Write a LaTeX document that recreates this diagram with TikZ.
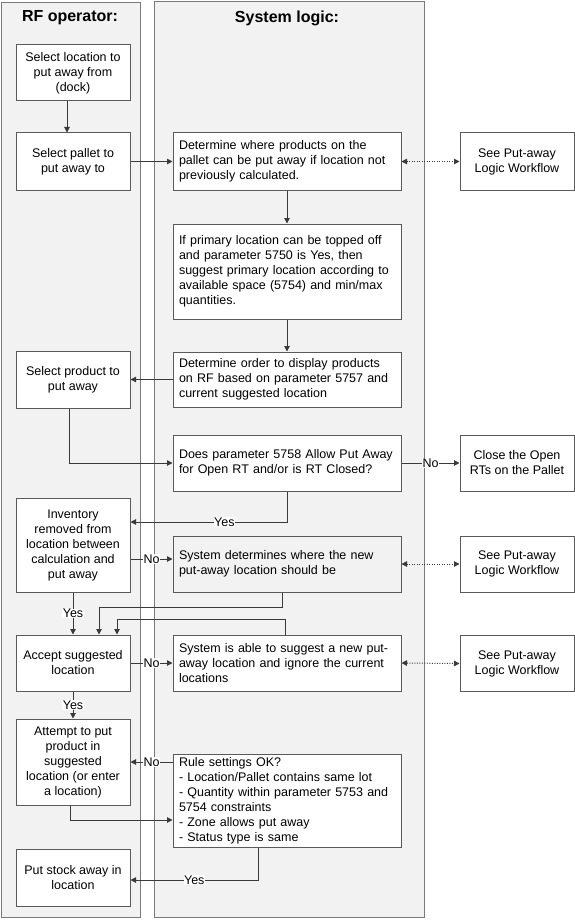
\documentclass[tikz,border=0pt]{standalone}
\usepackage{fontspec}
\setmainfont{Liberation Sans}
\usetikzlibrary{arrows.meta}

\definecolor{lanefill}{HTML}{F2F2F2}
\definecolor{laneline}{HTML}{7A7A7A}
\definecolor{boxline}{HTML}{5A5A5A}
\definecolor{flowline}{HTML}{3A3A3A}

\newcommand{\boxfont}{\fontsize{12.5}{15}\selectfont}

\begin{document}
\begin{tikzpicture}[x=1pt,y=-1pt,
		rfbox/.style={draw=boxline,line width=1pt,fill=white,minimum width=114pt,inner sep=3pt,align=center,font=\boxfont},
		sysbox/.style={draw=boxline,line width=1pt,fill=white,text width=216pt,inner sep=6pt,align=left,font=\boxfont},
		seebox/.style={draw=boxline,line width=1pt,fill=white,minimum width=114pt,inner sep=3pt,align=center,font=\boxfont},
		flow/.style={draw=flowline,line width=1pt,-{Triangle[length=5.5pt,width=5.5pt]}},
		link/.style={draw=flowline,line width=1pt,dash pattern=on 1pt off 1.5pt,{Triangle[length=5.5pt,width=5.5pt]}-{Triangle[length=5.5pt,width=5.5pt]}},
		answer/.style={fill=white,inner sep=0.5pt,font=\boxfont}
	]
		\useasboundingbox (0,0) rectangle (575,920);

		% swim lanes
		\draw[draw=laneline,line width=1pt,fill=lanefill]
			(1.5,2.5) rectangle (140,917.5)
			(154,2) rectangle (424.5,917.5);
		\node[font=\bfseries\fontsize{16}{18}\selectfont] (rftitle) at (70,18) {RF operator:};
		\node[font=\bfseries\fontsize{16}{18}\selectfont] (systitle) at (287,18) {System logic:};

		% RF operator
		\node[rfbox,minimum height=56pt] (loc) at (73,73) {Select location to\\put away from\\(dock)};
		\node[rfbox,minimum height=57pt] (pallet) at (73,161.5) {Select pallet to\\put away to};
		\node[rfbox,minimum height=57pt] (product) at (73,379.5) {Select product to\\put away};
		\node[rfbox,minimum height=94pt] (inv) at (73,545) {Inventory\\removed from\\location between\\calculation and\\put away};
		\node[rfbox,minimum height=56pt] (accept) at (73,663) {Accept suggested\\location};
		\node[rfbox,minimum height=86pt] (attempt) at (73,762) {Attempt to put\\product in\\suggested\\location (or enter\\a location)};
		\node[rfbox,minimum height=57pt] (putstock) at (73,877.5) {Put stock away in\\location};

		% system logic
		\node[sysbox,minimum height=57pt] (determine) at (287,161.5) {Determine where products on the\\pallet can be put away if location not\\previously calculated.};
		\node[sysbox,minimum height=95pt] (primary) at (287,271.5) {If primary location can be topped off\\and parameter 5750 is Yes, then\\suggest primary location according to\\available space (5754) and min/max\\quantities.};
		\node[sysbox,minimum height=55pt] (order) at (287,379.5) {Determine order to display products\\on RF based on parameter 5757 and\\current suggested location};
		\node[sysbox,minimum height=56pt] (allow) at (287,463) {Does parameter 5758 Allow Put Away\\for Open RT and/or is RT Closed?};
		\node[sysbox,minimum height=56pt,fill=lanefill] (newloc) at (287,564) {System determines where the new\\put-away location should be};
		\node[sysbox,minimum height=56pt] (suggest) at (287,663) {System is able to suggest a new put-\\away location and ignore the current\\locations};
		\node[sysbox,minimum height=93pt,inner ysep=1.5pt] (rules) at (287,800.5) {Rule settings OK?\\- Location/Pallet contains same lot\\- Quantity within parameter 5753 and\\5754 constraints\\- Zone allows put away\\- Status type is same};

		% outside
		\node[seebox,minimum height=57pt] (see1) at (517,161.5) {See Put-away\\Logic Workflow};
		\node[seebox,minimum height=56pt] (closert) at (517,463) {Close the Open\\RTs on the Pallet};
		\node[seebox,minimum height=56pt] (see2) at (517,564) {See Put-away\\Logic Workflow};
		\node[seebox,minimum height=56pt] (see3) at (517,663.5) {See Put-away\\Logic Workflow};

		% connectors
		\draw[flow] ([xshift=-6pt]loc.south) -- ([xshift=-6pt]pallet.north);
		\draw[flow] (pallet.east) -- (determine.west);
		\draw[link] (determine.east) -- (see1.west);
		\draw[flow] (determine.south) -- (primary.north);
		\draw[flow] (primary.south) -- (order.north);
		\draw[flow] (order.west) -- (product.east);
		\draw[flow] ([xshift=-4pt]product.south) |- (allow.west);
		\draw[flow] (allow.east) -- node[answer] {No} (closert.west);
		\draw[flow] (allow.south) |- node[answer,pos=0.7] {Yes} ([yshift=23pt]inv.east);
		\draw[flow] ([yshift=5pt]newloc.west -| inv.east) -- node[answer] {No} ([yshift=5pt]newloc.west);
		\draw[link] (newloc.east) -- (see2.west);
		\draw[flow] (inv.south) -- node[answer] {Yes} (accept.north);
		\draw[flow] ([xshift=-5pt]newloc.south) -- ++(0,15) -| ([xshift=26pt]accept.north);
		\draw[flow] ([xshift=-2pt]suggest.north) -- ++(0,-15) -| ([xshift=44pt]accept.north);
		\draw[flow] (accept.east) -- node[answer] {No} (suggest.west);
		\draw[link] (suggest.east) -- (see3.west);
		\draw[flow] (accept.south) -- node[answer] {Yes} (attempt.north);
		\draw[flow] (rules.west |- attempt.east) -- node[answer] {No} (attempt.east);
		\draw[flow] ([xshift=-3pt]attempt.south) |- ([yshift=-19.5pt]rules.west);
		\draw[flow] ([xshift=-29pt]rules.south) |- node[answer,pos=0.75] {Yes} ([yshift=-2.5pt]putstock.east);

	\end{tikzpicture}
\end{document}
